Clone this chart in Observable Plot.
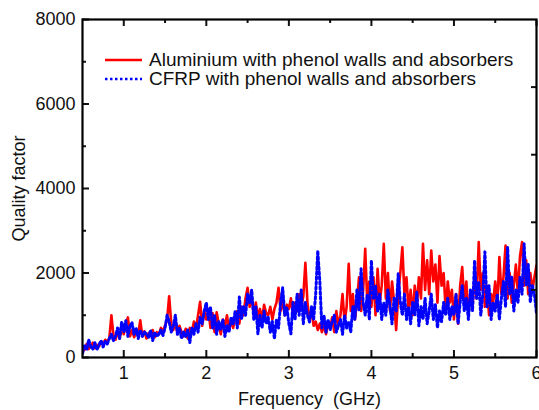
<!DOCTYPE html>
<html>
<head>
<meta charset="utf-8">
<script src="https://cdn.jsdelivr.net/npm/d3@7"></script>
<script src="https://cdn.jsdelivr.net/npm/@observablehq/plot@0.6"></script>
<style>
  html, body { margin: 0; padding: 0; background: #fff; }
  #wrap { position: relative; width: 539px; height: 410px; font-family: "Liberation Sans", Arial, sans-serif; }
  #legend { position: absolute; left: 105px; top: 50px; font-size: 19px; color: #111; line-height: 19px; }
  #legend .row { display: flex; align-items: center; white-space: nowrap; }
  #legend svg { margin-right: 7px; }
</style>
</head>
<body>
<div id="wrap"></div>
<script>
// Sampling grid of the measurement (GHz)
const freqStart = 0.5;
const freqStep = 0.025;

// Quality factor, aluminium chamber with phenol walls and absorbers
const aluminium = [
  250,180,320,200,280,350,220,300,260,380,330,420,380,450,1000,520,420,600,450,700,
  550,800,950,500,650,480,600,550,880,500,620,450,580,520,650,480,600,550,700,620,
  750,900,1450,800,650,900,550,750,600,500,680,450,700,600,850,700,1000,1320,750,1100,
  900,1150,700,1050,600,1070,800,550,900,750,1000,650,850,700,950,1100,800,1200,1000,1400,
  1650,1200,1450,1000,1300,950,1150,900,1250,1050,1000,1200,900,1150,1300,1650,1100,1350,1000,1250,
  1150,1400,1000,1300,1100,1500,1200,1450,2240,1300,900,1100,750,850,650,800,600,750,550,800,
  700,950,600,1100,750,1000,1500,850,1200,2220,1100,1500,900,1300,1900,1100,1600,2570,1300,1800,
  1200,1900,1000,2100,1300,1700,2690,1400,2000,1100,1800,1300,650,1500,2000,2610,1500,1900,1100,1600,
  1000,1700,1200,1900,1400,2690,1600,2300,1500,2530,1800,2200,1300,2400,1700,2000,1100,1800,1300,1600,
  900,1500,800,1700,2140,1300,1800,1000,1500,1200,1900,1400,2730,1600,2000,1200,1700,1000,1500,1300,
  1800,1200,2380,1500,1900,2650,1400,2000,1300,1700,2200,1500,2400,2730,1700,2300,1500,2000,1600,1900,2180
];

// Quality factor, CFRP chamber with phenol walls and absorbers
const cfrp = [
  100,300,180,420,250,200,350,180,300,400,250,380,320,450,550,400,500,700,450,850,
  600,870,500,750,820,550,700,450,650,500,600,550,480,650,400,600,500,550,650,520,
  700,1000,850,600,750,1000,550,700,450,600,500,650,350,700,550,800,600,950,800,1100,
  1300,900,1200,700,1000,550,850,650,900,500,750,600,950,800,1100,700,1430,900,1200,1000,
  1500,1300,1600,900,1200,560,1000,700,1100,800,950,600,850,440,900,700,1300,1650,1000,1200,
  800,560,1300,900,1500,1000,1600,800,1300,1000,840,1200,900,1500,2530,1800,700,1000,600,900,
  650,850,1000,600,750,900,550,1000,700,850,600,1200,900,1600,1100,2100,1300,1000,1500,900,
  2300,1400,1700,1100,1500,900,1300,1000,1600,1200,800,1400,1100,1980,1300,1000,1500,900,1200,800,
  1300,1000,1550,750,1200,900,1400,800,1100,1500,900,1250,700,1100,850,1300,1000,1400,900,1200,
  1000,1500,800,1300,1700,1100,1400,900,1600,1100,2300,1400,1800,1000,1500,2500,1200,1700,900,1300,
  1100,1500,900,1400,1800,1200,2610,1500,1900,1100,1600,1300,1900,1500,2690,1700,2200,1300,1700,1500,1050
];

const seriesNames = ["Aluminium with phenol walls and absorbers", "CFRP with phenol walls and absorbers"];
const seriesColors = ["#ff0000", "#0000ff"];
const seriesDash = [null, "2.5,2.5"];

const xMajorTicks = [1, 2, 3, 4, 5, 6];
const xMinorTicks = [1.5, 2.5, 3.5, 4.5, 5.5];
const yMajorTicks = [0, 2000, 4000, 6000, 8000];
const yMinorTicks = [1000, 3000, 5000, 7000];
const yRightTicks = [1600, 3200, 4800, 6400];

const toRows = (vals, name) => vals.map((q, i) => ({ f: freqStart + i * freqStep, q, name }));
const rowsAl = toRows(aluminium, seriesNames[0]);
const rowsCf = toRows(cfrp, seriesNames[1]);

const font = "\"Liberation Sans\", Arial, sans-serif";

const chart = Plot.plot({
  width: 539,
  height: 410,
  marginLeft: 82,
  marginRight: 3,
  marginTop: 19,
  marginBottom: 53,
  style: { fontFamily: font, fontSize: "18px", color: "#111", background: "#fff", overflow: "visible" },
  x: { domain: [0.5, 6] },
  y: { domain: [0, 8000] },
  marks: [
    Plot.lineY(rowsAl, { x: "f", y: "q", stroke: seriesColors[0], strokeWidth: 2.6, clip: true }),
    Plot.lineY(rowsCf, { x: "f", y: "q", stroke: seriesColors[1], strokeWidth: 3, strokeDasharray: seriesDash[1], clip: true }),
    // bottom
    Plot.axisX(xMajorTicks, { anchor: "bottom", tickSize: -7, tickFormat: () => "", label: null, strokeWidth: 2 }),
    Plot.axisX(xMinorTicks, { anchor: "bottom", tickSize: -4, tickFormat: () => "", label: null, strokeWidth: 2 }),
    Plot.axisX(xMajorTicks, { anchor: "bottom", tickSize: 0, tickPadding: 9, fontSize: 18, label: "Frequency  (GHz)", labelAnchor: "center", labelOffset: 47, labelArrow: "none" }),
    // top
    Plot.axisX(xMajorTicks, { anchor: "top", tickSize: -6, tickFormat: () => "", label: null, strokeWidth: 2 }),
    Plot.axisX(xMinorTicks, { anchor: "top", tickSize: -3, tickFormat: () => "", label: null, strokeWidth: 2 }),
    // left
    Plot.axisY(yMajorTicks, { anchor: "left", tickSize: -7, tickFormat: () => "", label: null, strokeWidth: 2 }),
    Plot.axisY(yMinorTicks, { anchor: "left", tickSize: -4, tickFormat: () => "", label: null, strokeWidth: 2 }),
    Plot.axisY(yMajorTicks, { anchor: "left", tickSize: 0, tickPadding: 7, fontSize: 18, tickFormat: d => String(d), label: "Quality factor", labelAnchor: "center", labelOffset: 70, labelArrow: "none" }),
    // right
    Plot.axisY(yRightTicks, { anchor: "right", tickSize: -6, tickFormat: () => "", label: null, strokeWidth: 2 }),
    Plot.frame({ stroke: "#000", strokeWidth: 2.2 })
  ]
});

const wrap = document.getElementById("wrap");
wrap.appendChild(chart);

// legend
const legend = document.createElement("div");
legend.id = "legend";
seriesNames.forEach((name, i) => {
  const row = document.createElement("div");
  row.className = "row";
  const sw = d3.create("svg").attr("width", 37).attr("height", 10);
  sw.append("line").attr("x1", 0).attr("x2", 37).attr("y1", 5).attr("y2", 5)
    .attr("stroke", seriesColors[i]).attr("stroke-width", 2.6)
    .attr("stroke-dasharray", seriesDash[i]);
  row.appendChild(sw.node());
  const t = document.createElement("span");
  t.textContent = name;
  row.appendChild(t);
  legend.appendChild(row);
});
wrap.appendChild(legend);
</script>
</body>
</html>
